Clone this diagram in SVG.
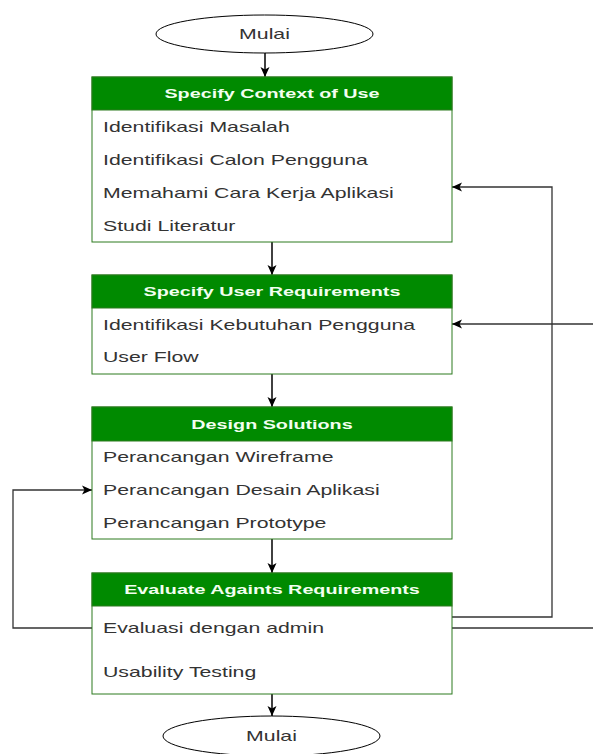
<svg xmlns="http://www.w3.org/2000/svg" width="593" height="754" viewBox="0 0 593 754">
<style>
.hdr{fill:#008a00;stroke:#2d7a1f;stroke-width:1}
.body{fill:#ffffff;stroke:#2d7a1f;stroke-width:1}
.ht{font-family:"Liberation Sans",Arial,sans-serif;font-size:13px;font-weight:bold;fill:#f2fff0;text-anchor:middle}
.it{font-family:"Liberation Sans",Arial,sans-serif;font-size:14px;fill:#333333}
.et{font-family:"Liberation Sans",Arial,sans-serif;font-size:14px;fill:#333333;text-anchor:middle}
.term{fill:#ffffff;stroke:#000000;stroke-width:1}
.c{fill:none;stroke:#111111;stroke-width:1.6}
.f{fill:none;stroke:#333333;stroke-width:1.3}
</style>
<defs>
<marker id="ah" markerUnits="userSpaceOnUse" markerWidth="12" markerHeight="12" viewBox="0 0 12 12" refX="11" refY="6" orient="auto">
<path d="M1,1.5 L11,6 L1,10.5 L3.5,6 Z" fill="#000000"/>
</marker>
</defs>
<rect width="593" height="754" fill="#ffffff"/>

<g id="connectors">
<path class="c" d="M265,53 V77" marker-end="url(#ah)"/>
<path class="c" d="M272,242 V275" marker-end="url(#ah)"/>
<path class="c" d="M272,374 V407" marker-end="url(#ah)"/>
<path class="c" d="M272,539 V573" marker-end="url(#ah)"/>
<path class="c" d="M272,694 V716" marker-end="url(#ah)"/>
<path class="f" d="M452,617 H552 V187 H452" marker-end="url(#ah)"/>
<path class="f" d="M593,324 H452" marker-end="url(#ah)"/>
<path class="f" d="M452,628 H593"/>
<path class="f" d="M92,628 H13 V490 H92" marker-end="url(#ah)"/>
</g>

<g id="start">
<ellipse class="term" cx="264.5" cy="34" rx="108.5" ry="19"/>
<text class="et" transform="translate(264.5,39) scale(1.52,1)">Mulai</text>
</g>

<g id="context">
<rect class="body" x="92" y="77" width="360" height="165"/>
<rect class="hdr" x="92" y="77" width="360" height="33"/>
<text class="ht" transform="translate(272,98) scale(1.52,1)">Specify Context of Use</text>
<text class="it" transform="translate(103,132) scale(1.52,1)">Identifikasi Masalah</text>
<text class="it" transform="translate(103,165) scale(1.52,1)">Identifikasi Calon Pengguna</text>
<text class="it" transform="translate(103,198) scale(1.52,1)">Memahami Cara Kerja Aplikasi</text>
<text class="it" transform="translate(103,231) scale(1.52,1)">Studi Literatur</text>
</g>

<g id="requirements">
<rect class="body" x="92" y="275" width="360" height="99"/>
<rect class="hdr" x="92" y="275" width="360" height="33"/>
<text class="ht" transform="translate(272,296) scale(1.52,1)">Specify User Requirements</text>
<text class="it" transform="translate(103,330) scale(1.52,1)">Identifikasi Kebutuhan Pengguna</text>
<text class="it" transform="translate(103,362) scale(1.52,1)">User Flow</text>
</g>

<g id="design">
<rect class="body" x="92" y="407" width="360" height="132"/>
<rect class="hdr" x="92" y="407" width="360" height="34"/>
<text class="ht" transform="translate(272,428.5) scale(1.52,1)">Design Solutions</text>
<text class="it" transform="translate(103,462) scale(1.52,1)">Perancangan Wireframe</text>
<text class="it" transform="translate(103,495) scale(1.52,1)">Perancangan Desain Aplikasi</text>
<text class="it" transform="translate(103,528) scale(1.52,1)">Perancangan Prototype</text>
</g>

<g id="evaluate">
<rect class="body" x="92" y="573" width="360" height="121"/>
<rect class="hdr" x="92" y="573" width="360" height="33"/>
<text class="ht" transform="translate(272,594) scale(1.52,1)">Evaluate Againts Requirements</text>
<text class="it" transform="translate(103,633) scale(1.52,1)">Evaluasi dengan admin</text>
<text class="it" transform="translate(103,677) scale(1.52,1)">Usability Testing</text>
</g>

<g id="end">
<ellipse class="term" cx="271.5" cy="736" rx="108.5" ry="20"/>
<text class="et" transform="translate(271.5,741) scale(1.52,1)">Mulai</text>
</g>
</svg>
